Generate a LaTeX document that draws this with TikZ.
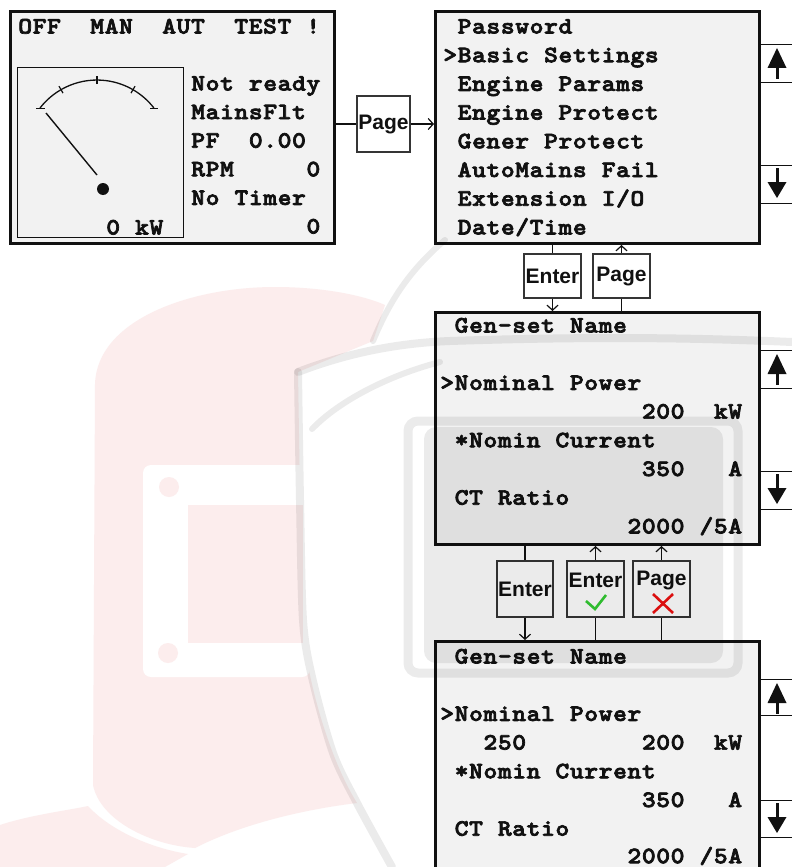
\documentclass[tikz,border=0pt]{standalone}
\usepackage{fontspec}
\newfontfamily\lcdfont{lmmonolt10-bold.otf}[FakeBold=3,FakeStretch=1.12]
\newfontfamily\btnfont{Liberation Sans}
\usetikzlibrary{arrows.meta}
\definecolor{lcdbg}{HTML}{F2F2F2}
\definecolor{wmpink}{HTML}{FCEDED}
\definecolor{okgreen}{HTML}{33CC33}
\definecolor{nored}{HTML}{EE1111}
\definecolor{ink}{HTML}{111111}
\makeatletter
\newcommand\lcdstr[1]{\@tfor\lcd@c:=#1\do{\makebox[14.4pt]{\lcd@c}}}
\makeatother
\tikzset{
  lcdscreen/.style={draw=ink, line width=3pt, fill=lcdbg, inner sep=0, anchor=north west},
  btnbox/.style={draw=ink!85, line width=1.4pt, fill=white, inner sep=0, font=\btnfont\bfseries\fontsize{21}{21}\selectfont, text=ink},
  btntext/.style={inner sep=0, font=\btnfont\bfseries\fontsize{21}{21}\selectfont, text=ink},
  lcdtext/.style={anchor=base west, inner sep=0, outer sep=0, font=\lcdfont\fontsize{23.5}{23.5}\selectfont, text=ink},
  wireline/.style={draw=ink, line width=1.2pt},
  wirearrow/.style={wireline, -{Straight Barb[length=5pt,width=11pt]}},
  sidekeybox/.style={draw=ink, line width=1.4pt, inner sep=0, anchor=north west, minimum width=60pt},
  wmgray/.style={draw=black, draw opacity=0.08, line width=8pt, line cap=round},
  upglyph/.pic={\fill[ink] (0,4) -- (-9.5,24) -- (9.5,24) -- cycle; \draw[ink, line width=3pt] (0,20) -- (0,35);},
  downglyph/.pic={\fill[ink] (0,33) -- (-9.5,17) -- (9.5,17) -- cycle; \draw[ink, line width=3pt] (0,3) -- (0,21);},
}
\begin{document}
\begin{tikzpicture}[x=1pt,y=-1pt]
\useasboundingbox (0,0) rectangle (792,867);
\clip (0,0) rectangle (792,867);
\fill[white] (0,0) rectangle (792,867);

% watermark (pink helmet, background)
\fill[wmpink] (93,785) -- (95,384) .. controls (97,320) and (190,287) .. (275,287)
  .. controls (325,287) and (365,296) .. (385,305) -- (373,341) -- (298,372)
  -- (302,620) .. controls (306,680) and (330,760) .. (357,803)
  .. controls (300,810) and (240,825) .. (195,848) .. controls (150,845) and (100,820) .. (93,785) -- cycle;
\fill[wmpink] (0,825) .. controls (30,815) and (70,810) .. (88,806) .. controls (110,830) and (150,848) .. (188,854)
  -- (165,867) -- (0,867) -- cycle;
\fill[white, rounded corners=8pt] (143,465) rectangle (310,677);
\fill[wmpink] (188,505) rectangle (303,643);
\fill[wmpink] (169,487) circle[radius=10];
\fill[wmpink] (168,653) circle[radius=10];

% screens
\node[lcdscreen, minimum width=324pt, minimum height=231.5pt] (s1) at (9,10.5) {};
\node[lcdscreen, minimum width=324pt, minimum height=231.5pt] (s2) at (434,10.5) {};
\node[lcdscreen, minimum width=324pt, minimum height=232pt] (s3) at (434,311) {};
\node[lcdscreen, minimum width=324pt, minimum height=260pt] (s4) at (434,640) {};

% side keys
\node[sidekeybox, minimum height=38pt] (up2) at (758,44) {};
\node[sidekeybox, minimum height=38pt] (dn2) at (758,165) {};
\node[sidekeybox, minimum height=38pt] (up3) at (758,350) {};
\node[sidekeybox, minimum height=38pt] (dn3) at (758,471) {};
\node[sidekeybox, minimum height=36pt] (up4) at (758,679) {};
\node[sidekeybox, minimum height=37pt] (dn4) at (758,800) {};
\pic at (777,44) {upglyph};
\pic at (777,165) {downglyph};
\pic at (777,350) {upglyph};
\pic at (777,471) {downglyph};
\pic at (777,679) {upglyph};
\pic at (777,800) {downglyph};

% main screen contents
\node[lcdtext] (m0) at (18,33.5) {\lcdstr{OFF~~MAN~~AUT~~TEST~!}};
\node[draw=ink, line width=1.3pt, minimum width=166pt, minimum height=170pt, anchor=north west, inner sep=0] (gauge) at (17,67) {};
\draw[ink, line width=1.3pt] (40,108) arc[start angle=-142.3, end angle=-37.7, radius=72];
\draw[ink, line width=1.3pt] (36,108.5) -- (45,108.5);
\draw[ink, line width=1.3pt] (150,108.5) -- (158,108.5);
\foreach \a in {-120,-90,-60} \draw[ink, line width=1.2pt] (97,152) ++(\a:68) -- ++(\a:8);
\draw[ink, line width=1.4pt] (46,113) -- (97,175);
\fill[ink] (103,189) circle[radius=6];
\node[lcdtext] (m1) at (106,234.5) {\lcdstr{0~kW}};
\node[lcdtext] (m2) at (191,90.5) {\lcdstr{Not~ready}};
\node[lcdtext] (m3) at (191,119.1) {\lcdstr{MainsFlt}};
\node[lcdtext] (m4) at (191,147.7) {\lcdstr{PF~~0.00}};
\node[lcdtext] (m5) at (191,176.3) {\lcdstr{RPM~~~~~0}};
\node[lcdtext] (m6) at (191,204.9) {\lcdstr{No~Timer}};
\node[lcdtext] (m7) at (191,233.5) {\lcdstr{~~~~~~~~0}};

% menu screen
\node[lcdtext] (a0) at (443,33.5) {\lcdstr{~Password}};
\node[lcdtext] (a1) at (443,62.2) {\lcdstr{>Basic~Settings}};
\node[lcdtext] (a2) at (443,90.9) {\lcdstr{~Engine~Params}};
\node[lcdtext] (a3) at (443,119.6) {\lcdstr{~Engine~Protect}};
\node[lcdtext] (a4) at (443,148.3) {\lcdstr{~Gener~Protect}};
\node[lcdtext] (a5) at (443,177) {\lcdstr{~AutoMains~Fail}};
\node[lcdtext] (a6) at (443,205.7) {\lcdstr{~Extension~I/O}};
\node[lcdtext] (a7) at (443,234.4) {\lcdstr{~Date/Time}};

% setting screen
\node[lcdtext] (b0) at (440,332.5) {\lcdstr{~Gen-set~Name}};
\node[lcdtext] (b1) at (440,389.9) {\lcdstr{>Nominal~Power}};
\node[lcdtext] (b2) at (440,418.6) {\lcdstr{~~~~~~~~~~~~~~200~~kW}};
\node[lcdtext] (b3) at (440,447.3) {\lcdstr{~*Nomin~Current}};
\node[lcdtext] (b4) at (440,476) {\lcdstr{~~~~~~~~~~~~~~350~~~A}};
\node[lcdtext] (b5) at (440,504.7) {\lcdstr{~CT~Ratio}};
\node[lcdtext] (b6) at (440,533.4) {\lcdstr{~~~~~~~~~~~~~2000~/5A}};

% edit screen
\node[lcdtext] (c0) at (440,663.5) {\lcdstr{~Gen-set~Name}};
\node[lcdtext] (c1) at (440,720.9) {\lcdstr{>Nominal~Power}};
\node[lcdtext] (c2) at (440,749.6) {\lcdstr{~~~250~~~~~~~~200~~kW}};
\node[lcdtext] (c3) at (440,778.3) {\lcdstr{~*Nomin~Current}};
\node[lcdtext] (c4) at (440,807) {\lcdstr{~~~~~~~~~~~~~~350~~~A}};
\node[lcdtext] (c5) at (440,835.7) {\lcdstr{~CT~Ratio}};
\node[lcdtext] (c6) at (440,863.2) {\lcdstr{~~~~~~~~~~~~~2000~/5A}};

% buttons
\node[btnbox, minimum width=53pt, minimum height=56pt] (pg1) at (383.5,124) {Page};
\node[btnbox, minimum width=57pt, minimum height=44pt] (en1) at (552.5,276) {Enter};
\node[btnbox, minimum width=57pt, minimum height=44pt] (pg2) at (621.5,276) {Page};
\node[btnbox, minimum width=56pt, minimum height=56pt] (en2) at (525,589) {Enter};
\node[btnbox, minimum width=57pt, minimum height=56pt] (en3) at (595.5,589) {};
\node[btnbox, minimum width=57pt, minimum height=56pt] (pg3) at (661.5,589) {};
\node[btntext] (en3t) at ([yshift=9pt]en3.center) {Enter};
\node[btntext] (pg3t) at ([yshift=9pt]pg3.center) {Page};
\draw[okgreen, line width=2.6pt] ([shift={(-9.5,12)}]en3.center) -- ([shift={(-0.5,20)}]en3.center) -- ([shift={(10.5,6)}]en3.center);
\draw[nored, line width=2.6pt] ([shift={(-8.5,5)}]pg3.center) -- ([shift={(11.5,24)}]pg3.center);
\draw[nored, line width=2.6pt] ([shift={(11.5,5)}]pg3.center) -- ([shift={(-8.5,24)}]pg3.center);

% connectors
\draw[wireline] (pg1.west -| s1.east) -- (pg1.west);
\draw[wirearrow] (pg1.east) -- (pg1.east -| s2.west);
\draw[wireline] (en1.north |- s2.south) -- (en1.north);
\draw[wirearrow] (en1.south) -- (en1.south |- s3.north);
\draw[wireline] (pg2.south |- s3.north) -- (pg2.south);
\draw[wirearrow] (pg2.north) -- (pg2.north |- s2.south);
\draw[wireline] (en2.north |- s3.south) -- (en2.north);
\draw[wirearrow] (en2.south) -- (en2.south |- s4.north);
\draw[wireline] (en3.south |- s4.north) -- (en3.south);
\draw[wirearrow] (en3.north) -- (en3.north |- s3.south);
\draw[wireline] (pg3.south |- s4.north) -- (pg3.south);
\draw[wirearrow] (pg3.north) -- (pg3.north |- s3.south);

% watermark (grey shield, overlay)
\draw[wmgray] plot[smooth] coordinates {(298,372) (300,500) (303,620) (312,677) (333,753) (357,803) (392,867)};
\draw[wmgray] (298,372) .. controls (350,352) and (400,343) .. (450,341) .. controls (600,336) and (700,338) .. (792,342);
\draw[wmgray, line width=6pt] (312,429) .. controls (340,400) and (390,375) .. (440,362);
\draw[wmgray, line width=6pt] (373,341) .. controls (390,300) and (410,270) .. (445,240);
\draw[wmgray, line width=9pt, rounded corners=10pt] (408,421) rectangle (738,673);
\fill[black, fill opacity=0.08, rounded corners=12pt] (424,427) rectangle (723,663);
\end{tikzpicture}
\end{document}
